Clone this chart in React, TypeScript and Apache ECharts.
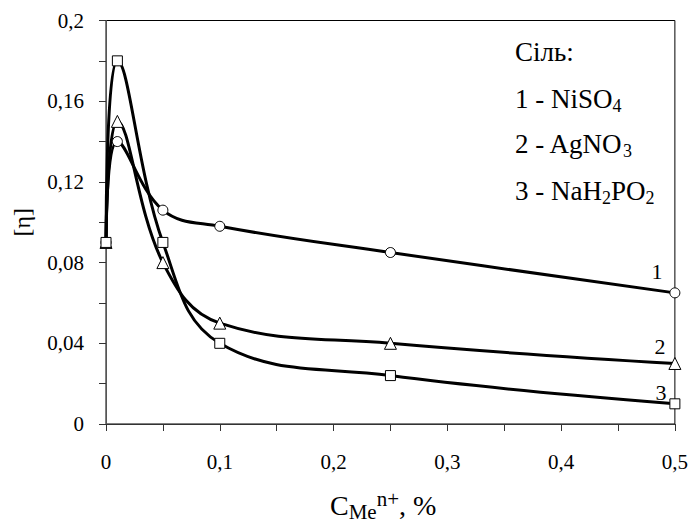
import React, { useEffect, useRef } from "react";
import * as echarts from "echarts";

// ---- data ----
const concentrations = [0, 0.01, 0.05, 0.1, 0.25, 0.5];
const nickelSulfate = [0.09, 0.14, 0.106, 0.098, 0.085, 0.065];
const silverNitrate = [0.09, 0.15, 0.08, 0.05, 0.04, 0.03];
const sodiumHypophosphite = [0.09, 0.18, 0.09, 0.04, 0.024, 0.01];
const curveNumbers = ["1", "2", "3"];
const legendTitle = "Сіль:";
const legendFormulas = [
  ["1 - NiSO", "4", ""],
  ["2 - AgNO", "3", ""],
  ["3 - NaH", "2", "PO", "2"],
];
const yTickLabels = ["0", "0,04", "0,08", "0,12", "0,16", "0,2"];
const xTickLabels = ["0", "0,1", "0,2", "0,3", "0,4", "0,5"];
const yAxisTitle = "[η]";

const FONT = "Liberation Serif";

function fmt(v: number, list: string[], step: number) {
  const idx = Math.round(v / step);
  if (Math.abs(idx * step - v) > 1e-9) return "";
  return list[idx] ?? "";
}

export default function App() {
  const ref = useRef<HTMLDivElement>(null);
  useEffect(() => {
    if (!ref.current) return;
    const chart = echarts.init(ref.current, undefined, { renderer: "svg" });

    const seriesDefs = [
      { values: nickelSulfate, symbol: "circle", size: 10, offset: [-18, -21] },
      { values: silverNitrate, symbol: "triangle", size: 12, offset: [-15, -17] },
      { values: sodiumHypophosphite, symbol: "rect", size: 10, offset: [-14, -11] },
    ];

    const series = seriesDefs.map((d, si) => ({
      type: "line",
      smooth: 0.4,
      symbol: d.symbol,
      symbolSize: d.size,
      showAllSymbol: true,
      lineStyle: { color: "#000", width: 3 },
      itemStyle: { color: "#fff", borderColor: "#000", borderWidth: 1 },
      z: 3,
      data: concentrations.map((x, i) => {
        if (i === concentrations.length - 1) {
          return {
            value: [x, d.values[i]],
            label: {
              show: true,
              position: "inside",
              offset: d.offset,
              formatter: curveNumbers[si],
              fontFamily: FONT,
              fontSize: 22,
              color: "#000",
            },
          };
        }
        return [x, d.values[i]];
      }),
    }));

    const mainStyle = { fontFamily: FONT, fontSize: 27, lineHeight: 32, verticalAlign: "middle", color: "#000" };
    const subStyle = { fontFamily: FONT, fontSize: 18, lineHeight: 17, verticalAlign: "bottom", color: "#000" };
    const baselines = [63, 110, 155, 202];
    const legendTexts: any[] = [];
    legendTexts.push({
      type: "text",
      left: 515,
      top: baselines[0] - 25,
      style: { text: "{m|" + legendTitle + "}", rich: { m: mainStyle }, fill: "#000" },
    });
    legendFormulas.forEach((parts, i) => {
      let t = "";
      parts.forEach((p, k) => {
        if (!p) return;
        t += k % 2 === 0 ? "{m|" + p + "}" : "{s|" + p + "}";
      });
      legendTexts.push({
        type: "text",
        left: 515,
        top: baselines[i + 1] - 25,
        style: { text: t, rich: { m: mainStyle, s: subStyle }, fill: "#000" },
      });
    });

    chart.setOption({
      animation: false,
      backgroundColor: "#fff",
      textStyle: { fontFamily: FONT },
      grid: {
        left: 106,
        right: 14,
        top: 20.5,
        bottom: 99,
        show: true,
        borderColor: "#000",
        borderWidth: 1,
      },
      xAxis: {
        type: "value",
        min: 0,
        max: 0.5,
        interval: 0.05,
        splitLine: { show: false },
        axisLine: { lineStyle: { color: "#333", width: 1 } },
        axisTick: { inside: false, length: 7, lineStyle: { color: "#333" } },
        axisLabel: {
          margin: 27,
          fontFamily: FONT,
          fontSize: 21,
          color: "#000",
          formatter: (v: number) => fmt(v, xTickLabels, 0.1),
        },
      },
      yAxis: {
        type: "value",
        min: 0,
        max: 0.2,
        interval: 0.02,
        name: yAxisTitle,
        nameLocation: "middle",
        nameRotate: 90,
        nameGap: 72,
        nameTextStyle: { fontFamily: FONT, fontSize: 24, color: "#000" },
        splitLine: { show: false },
        axisLine: { show: true, lineStyle: { color: "#555", width: 1 } },
        axisTick: { show: true, inside: false, length: 7, lineStyle: { color: "#333" } },
        axisLabel: {
          margin: 22,
          fontFamily: FONT,
          fontSize: 21,
          color: "#000",
          formatter: (v: number) => fmt(v, yTickLabels, 0.04),
        },
      },
      series,
      graphic: [
        ...legendTexts,
        {
          type: "text",
          left: 330,
          top: 488.5,
          style: {
            text: "{c|C}{me|Me}{sup|n+}{c|, %}",
            fill: "#000",
            rich: {
              c: { fontFamily: FONT, fontSize: 28, lineHeight: 34, verticalAlign: "middle", color: "#000" },
              me: { fontFamily: FONT, fontSize: 21, lineHeight: 15, verticalAlign: "bottom", color: "#000" },
              sup: { fontFamily: FONT, fontSize: 21, lineHeight: 29, verticalAlign: "top", color: "#000" },
            },
          },
        },
      ],
    });
    return () => chart.dispose();
  }, []);

  return <div ref={ref} style={{ width: 691, height: 523, position: "absolute", left: 0, top: 0 }} />;
}
